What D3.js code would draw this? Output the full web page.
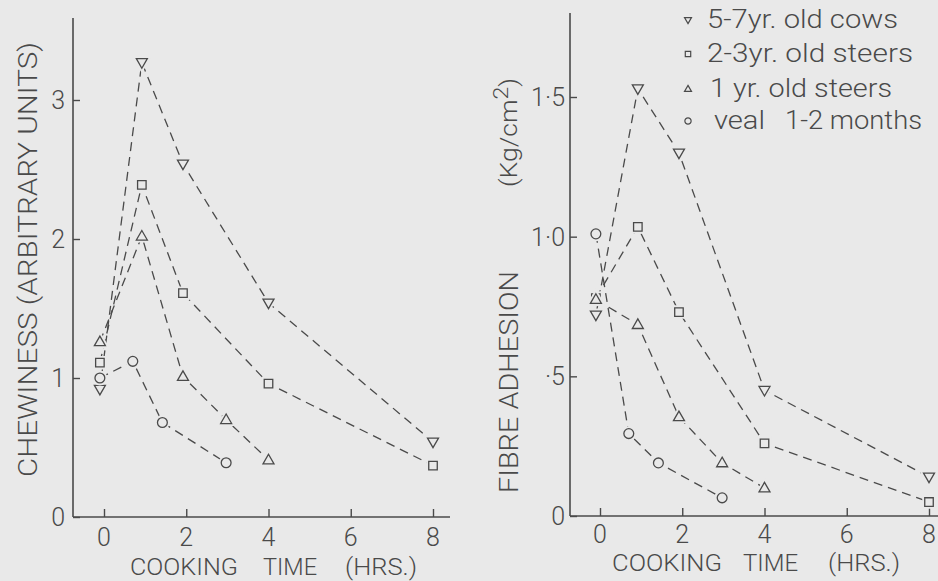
<!DOCTYPE html>
<html><head><meta charset="utf-8">
<script src="https://cdn.jsdelivr.net/npm/d3@7"></script>
<style>
html,body{margin:0;padding:0;background:#e9e9e9;}
svg{display:block;}
text{font-family:Roboto,"Open Sans","DejaVu Sans",sans-serif;font-weight:300;fill:#4a4a4a;}
</style></head><body><svg id="c" width="938" height="581"></svg>
<script>
// ---- data ----
const seriesNames = ["5-7yr. old cows", "2-3yr. old steers", "1 yr. old steers", "veal", "1-2 months"];
const seriesSymbols = ["down", "square", "up", "circle"];
const timesAdult    = [-0.1, 0.92, 1.92, 4, 8];
const timesYearling = [-0.1, 0.92, 1.92, 2.97, 4];
const timesVeal     = [-0.1, 0.7, 1.42, 2.97];
// Chewiness (arbitrary units)
const chewCows     = [0.92, 3.27, 2.54, 1.54, 0.54];
const chewSteers   = [1.11, 2.39, 1.61, 0.96, 0.37];
const chewYearling = [1.26, 2.02, 1.01, 0.70, 0.41];
const chewVeal     = [1.00, 1.12, 0.68, 0.39];
// Fibre adhesion (Kg/cm2)
const fibCows     = [0.72, 1.53, 1.30, 0.45, 0.14];
const fibSteers   = [0.78, 1.035, 0.73, 0.26, 0.05];
const fibYearling = [0.775, 0.685, 0.355, 0.19, 0.10];
const fibVeal     = [1.01, 0.295, 0.19, 0.065];
const xTicks = [0, 2, 4, 6, 8];
const chewTicks = [0, 1, 2, 3];
const chewTickLabels = ["0", "1", "2", "3"];
const fibTicks = [0, 0.5, 1.0, 1.5];
const fibTickLabels = ["0", "\u00b75", "1\u00b70", "1\u00b75"];

const ink = "#4a4a4a";
const bg = "#e9e9e9";
const svg = d3.select("#c");

function series(times, vals, sym) { return { sym, pts: times.map((t, i) => [t, vals[i]]) }; }
const chewSeries = [series(timesAdult, chewCows, "down"), series(timesAdult, chewSteers, "square"),
                    series(timesYearling, chewYearling, "up"), series(timesVeal, chewVeal, "circle")];
const fibSeries  = [series(timesAdult, fibCows, "down"), series(timesAdult, fibSteers, "square"),
                    series(timesYearling, fibYearling, "up"), series(timesVeal, fibVeal, "circle")];

function symbolPath(sym, s) {
  if (sym === "circle") return d3.symbol(d3.symbolCircle, Math.PI * s * s / 4 * 0.8)();
  if (sym === "square") return d3.symbol(d3.symbolSquare, s * s * 0.6)();
  const h = s * 0.87, w = s / 2;
  if (sym === "up") return `M0,${-h * 0.6}L${w},${h * 0.4}L${-w},${h * 0.4}Z`;
  return `M0,${h * 0.6}L${w},${-h * 0.4}L${-w},${-h * 0.4}Z`;
}

function panel(cfg) {
  const g = svg.append("g");
  const x = d3.scaleLinear().domain([0, 8]).range(cfg.xr);
  const y = d3.scaleLinear().domain(cfg.yd).range(cfg.yr);
  g.append("line").attr("x1", cfg.ax).attr("x2", cfg.ax).attr("y1", cfg.axTop).attr("y2", y(0))
    .attr("stroke", ink).attr("stroke-width", 1.6);
  g.append("line").attr("x1", cfg.ax).attr("x2", cfg.axRight).attr("y1", y(0)).attr("y2", y(0))
    .attr("stroke", ink).attr("stroke-width", 1.6);
  const xa = d3.axisTop(x).tickValues(xTicks).tickSize(8).tickFormat("");
  const xg = g.append("g").attr("transform", `translate(0,${y(0)})`).call(xa);
  xg.select(".domain").remove();
  xg.selectAll("line").attr("stroke", ink).attr("stroke-width", 1.4);
  g.selectAll(".xl").data(xTicks).join("text").attr("x", d => x(d)).attr("y", cfg.xlBase)
    .attr("text-anchor", "middle").attr("font-size", 25).text(d => d);
  const ya = d3.axisRight(y).tickValues(cfg.yTicks).tickSize(7).tickFormat("");
  const yg = g.append("g").attr("transform", `translate(${cfg.ax},0)`).call(ya);
  yg.select(".domain").remove();
  yg.selectAll("line").attr("stroke", ink).attr("stroke-width", 1.4);
  g.selectAll(".yl").data(cfg.yTicks).join("text").attr("x", cfg.ylEnd).attr("y", d => y(d))
    .attr("dy", "0.36em").attr("text-anchor", "end").attr("font-size", 25)
    .text((d, i) => cfg.yTickLabels[i]);
  const line = d3.line().x(d => x(d[0])).y(d => y(d[1]));
  g.selectAll(".ser").data(cfg.series).join("path").attr("d", d => line(d.pts))
    .attr("fill", "none").attr("stroke", ink).attr("stroke-width", 1.3).attr("stroke-dasharray", "9,6");
  cfg.series.forEach(s => {
    g.selectAll(null).data(s.pts).join("path")
      .attr("transform", d => `translate(${x(d[0])},${y(d[1])})`)
      .attr("d", symbolPath(s.sym, 11)).attr("fill", bg).attr("stroke", bg).attr("stroke-width", 5);
    g.selectAll(null).data(s.pts).join("path")
      .attr("transform", d => `translate(${x(d[0])},${y(d[1])})`)
      .attr("d", symbolPath(s.sym, 11)).attr("fill", "none").attr("stroke", ink).attr("stroke-width", 1.3);
  });
  return g;
}

panel({ xr: [104, 433], yd: [0, 3], yr: [517, 100], ax: 73, axTop: 18, axRight: 450,
        yTicks: chewTicks, yTickLabels: chewTickLabels, ylEnd: 65, xlBase: 546, series: chewSeries });
panel({ xr: [600, 929], yd: [0, 1.5], yr: [516, 97], ax: 570, axTop: 13, axRight: 938,
        yTicks: fibTicks, yTickLabels: fibTickLabels, ylEnd: 565, xlBase: 543, series: fibSeries });

function words(xs, yb, ws) {
  ws.forEach((w, i) => svg.append("text").attr("x", xs[i][0]).attr("y", yb).attr("font-size", 24)
    .attr("textLength", xs[i][1] - xs[i][0]).attr("lengthAdjust", "spacingAndGlyphs").text(w));
}
const xTitle = ["COOKING", "TIME", "(HRS.)"];
words([[130, 238], [263, 317], [345, 417]], 575, xTitle);
words([[612, 722], [743, 798], [828, 900]], 571, xTitle);

svg.append("text").attr("transform", "translate(37,477) rotate(-90)").attr("font-size", 25)
  .attr("textLength", 435).attr("lengthAdjust", "spacingAndGlyphs").text("CHEWINESS (ARBITRARY UNITS)");
svg.append("text").attr("transform", "translate(518,493) rotate(-90)").attr("font-size", 25)
  .attr("textLength", 222).attr("lengthAdjust", "spacingAndGlyphs").text("FIBRE ADHESION");
const kg = svg.append("text").attr("transform", "translate(517,187) rotate(-90)").attr("font-size", 23)
  .attr("textLength", 109).attr("lengthAdjust", "spacingAndGlyphs");
kg.append("tspan").text("(Kg/cm");
kg.append("tspan").attr("dy", -9).attr("font-size", 20).text("2");
kg.append("tspan").attr("dy", 9).text(")");

const legX = [[707, 898], [707, 913], [710, 892], [714, 765]];
const legY = [28, 62, 97, 129];
seriesSymbols.forEach((sym, i) => {
  svg.append("path").attr("transform", `translate(688,${legY[i] - 8})`).attr("d", symbolPath(sym, 7))
    .attr("fill", "none").attr("stroke", ink).attr("stroke-width", 1.2);
  svg.append("text").attr("x", legX[i][0]).attr("y", legY[i]).attr("font-size", 25)
    .attr("textLength", legX[i][1] - legX[i][0]).attr("lengthAdjust", "spacingAndGlyphs").text(seriesNames[i]);
});
svg.append("text").attr("x", 785).attr("y", legY[3]).attr("font-size", 25)
  .attr("textLength", 137).attr("lengthAdjust", "spacingAndGlyphs").text(seriesNames[4]);
</script></body></html>
